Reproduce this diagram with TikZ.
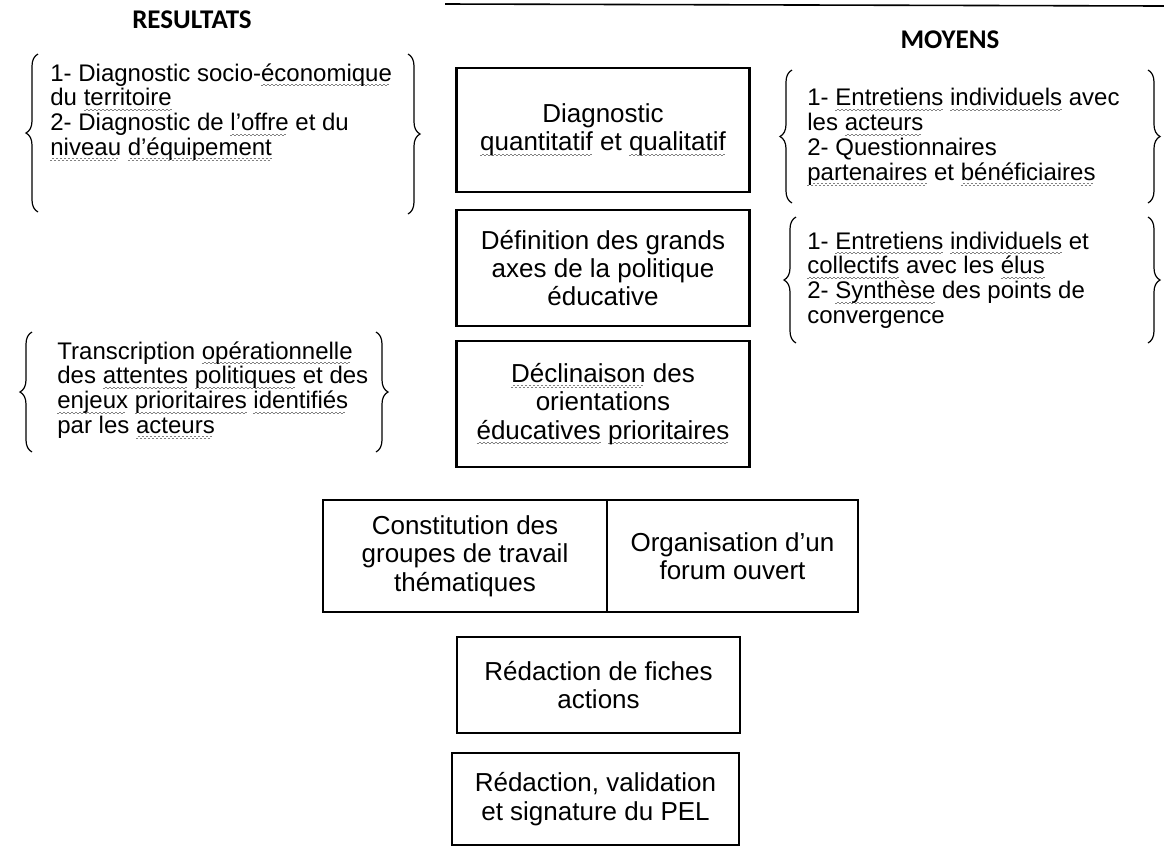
\documentclass[tikz,border=0pt]{standalone}
\usepackage{fontspec}
\setmainfont{Liberation Sans}
\newfontfamily\headfont{Carlito}
\usetikzlibrary{decorations.pathreplacing}

% wavy spell-check underline
\newsavebox\spellbox
\newcommand\spell[1]{\sbox\spellbox{#1}%
  \rlap{\raisebox{-2.6pt}{\color{gray}\leaders\hbox to 2pt{\rule{1pt}{0.5pt}\rule[0.6pt]{1pt}{0.5pt}}\hskip\wd\spellbox}}%
  \usebox\spellbox}

\tikzset{
  stage/.style={draw, line width=1.2pt, align=center, inner sep=0pt,
    font=\fontsize{13}{14.2}\selectfont},
  side/.style={anchor=west, align=left, inner sep=0pt,
    font=\fontsize{12}{12.4}\selectfont},
  head/.style={font=\headfont\bfseries\fontsize{13.5}{16}\selectfont},
  curly/.style={decorate, decoration={brace, amplitude=6pt}, line width=0.6pt},
}

\begin{document}
\begin{tikzpicture}[x=0.5pt,y=-0.5pt]
  \useasboundingbox (0,0) rectangle (1164,848);
  % scan edge at the top
  \draw[line width=0.8pt] (445,4) -- (1164,6);

  % column headers
  \node[head] (resHead) at (192,20) {RESULTATS};
  \node[head] (moyHead) at (950,40) {MOYENS};

  % central steps
  \node[stage, minimum width=146.5pt, minimum height=62pt] (diag) at (603,130)
    {Diagnostic\\\spell{quantitatif} et \spell{qualitatif}};
  \node[stage, minimum width=146.5pt, minimum height=58pt] (axes) at (603,268)
    {Définition des grands\\axes de la politique\\éducative};
  \node[stage, minimum width=146.5pt, minimum height=63pt] (orient) at (603,404)
    {\spell{Déclinaison} des\\orientations\\\spell{éducatives} \spell{prioritaires}};
  \node[stage, minimum width=142pt, minimum height=56pt] (groupes) at (465,556)
    {Constitution des\\groupes de travail\\thématiques};
  \node[stage, minimum width=125.5pt, minimum height=56pt] (forum) at (732.5,556)
    {Organisation d'un\\forum ouvert};
  \node[stage, minimum width=141.5pt, minimum height=48pt] (fiches) at (598.5,685)
    {Rédaction de fiches\\actions};
  \node[stage, minimum width=143.5pt, minimum height=46pt] (pel) at (595.5,799)
    {Rédaction, validation\\et signature du PEL};

  % results (left)
  \node[side] (resDiag) at (50,112)
    {1- Diagnostic socio-\spell{économique}\\du \spell{territoire}\\2- Diagnostic de \spell{l'offre} et du\\\spell{niveau} \spell{d'équipement}};
  \draw[curly] (38,212) -- (38,54);
  \draw[curly] (408,54) -- (408,214);
  \node[side] (resTrans) at (57,390)
    {Transcription \spell{opérationnelle}\\des \spell{attentes} \spell{politiques} et des\\\spell{enjeux} \spell{prioritaires} \spell{identifiés}\\par les \spell{acteurs}};
  \draw[curly] (32,452) -- (32,332);
  \draw[curly] (376,332) -- (376,452);

  % means (right)
  \node[side] (moyDiag) at (807,137)
    {1- \spell{Entretiens} \spell{individuels} avec\\les \spell{acteurs}\\2- Questionnaires\\\spell{partenaires} et \spell{bénéficiaires}};
  \draw[curly] (792,203) -- (792,70);
  \draw[curly] (1148,70) -- (1148,203);
  \node[side] (moyAxes) at (807,280)
    {1- \spell{Entretiens} \spell{individuels} et\\\spell{collectifs} avec les \spell{élus}\\2- \spell{Synthèse} des points de\\convergence};
  \draw[curly] (796,343) -- (796,217);
  \draw[curly] (1148,217) -- (1148,343);
\end{tikzpicture}
\end{document}
